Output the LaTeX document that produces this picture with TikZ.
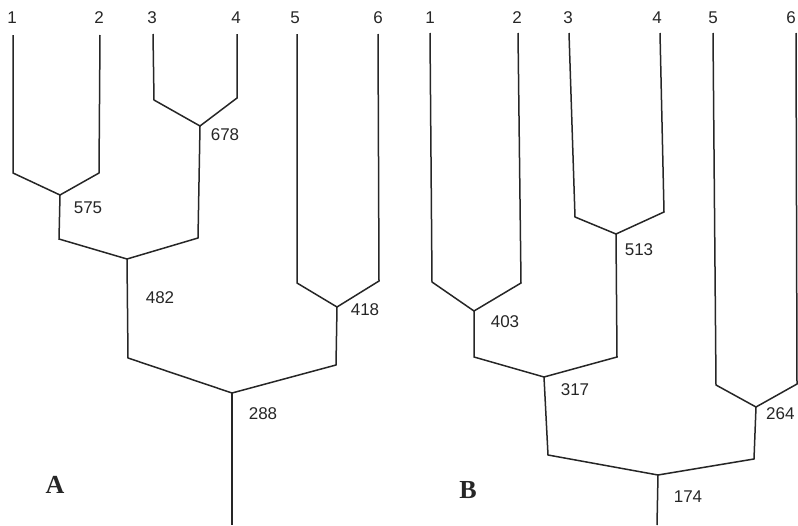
\documentclass[tikz,border=0pt]{standalone}
\usepackage{fontspec}
\setmainfont{Liberation Sans}
\newfontfamily\panelfont{Liberation Serif}
\begin{document}
\begin{tikzpicture}[x=1pt,y=-1pt,
  branch/.style={draw=black!85,line width=1.5pt,line join=miter},
  num/.style={inner sep=0pt,font=\fontsize{17}{20}\selectfont,text=black!85},
  panel/.style={inner sep=0pt,font=\panelfont\bfseries\fontsize{26}{28}\selectfont,text=black!85}]
\clip (0,0) rectangle (798,525);
\useasboundingbox (0,0) rectangle (798,525);
% ---------- Tree A ----------
\node[num] (la1) at (12,18) {1};
\node[num] (la2) at (99,18) {2};
\node[num] (la3) at (152,18) {3};
\node[num] (la4) at (236,18) {4};
\node[num] (la5) at (295,18) {5};
\node[num] (la6) at (378,18) {6};
\coordinate (a1t) at (13,35);  \coordinate (a1b) at (13,173);
\coordinate (a2t) at (100,35); \coordinate (a2b) at (99,173);
\coordinate (a575) at (60,195); \coordinate (a575b) at (59,239);
\coordinate (a3t) at (153,34); \coordinate (a3b) at (154,100);
\coordinate (a4t) at (237,34); \coordinate (a4b) at (237,98);
\coordinate (a678) at (200,126); \coordinate (a678b) at (198,238);
\coordinate (a482) at (127,259); \coordinate (a482b) at (128,358);
\coordinate (a5t) at (297,34); \coordinate (a5b) at (297,283);
\coordinate (a6t) at (378,34); \coordinate (a6b) at (379,281);
\coordinate (a418) at (337,307); \coordinate (a418b) at (336,365);
\coordinate (a288) at (232,393); \coordinate (aroot) at (232,525);
\draw[branch] (a1t) -- (a1b) -- (a575) -- (a2b) -- (a2t);
\draw[branch] (a3t) -- (a3b) -- (a678) -- (a4b) -- (a4t);
\draw[branch] (a575) -- (a575b) -- (a482) -- (a678b) -- (a678);
\draw[branch] (a5t) -- (a5b) -- (a418) -- (a6b) -- (a6t);
\draw[branch] (a482) -- (a482b) -- (a288) -- (a418b) -- (a418);
\draw[branch] (a288) -- (aroot);
\node[num] (n575) at (88,208) {575};
\node[num] (n678) at (225,135) {678};
\node[num] (n482) at (160,298) {482};
\node[num] (n418) at (365,310) {418};
\node[num] (n288) at (263,414) {288};
\node[panel] (pA) at (55,485) {A};
% ---------- Tree B ----------
\node[num] (lb1) at (430,18) {1};
\node[num] (lb2) at (517,18) {2};
\node[num] (lb3) at (568,18) {3};
\node[num] (lb4) at (657,18) {4};
\node[num] (lb5) at (713,18) {5};
\node[num] (lb6) at (791,18) {6};
\coordinate (b1t) at (430,33); \coordinate (b1b) at (432,282);
\coordinate (b2t) at (518,33); \coordinate (b2b) at (521,283);
\coordinate (b403) at (474,311); \coordinate (b403b) at (474,357);
\coordinate (b3t) at (569,33); \coordinate (b3b) at (575,217);
\coordinate (b4t) at (660,33); \coordinate (b4b) at (664,212);
\coordinate (b513) at (616,234); \coordinate (b513b) at (617,357);
\coordinate (b317) at (544,377); \coordinate (b317b) at (548,455);
\coordinate (b5t) at (713,33); \coordinate (b5b) at (716,385);
\coordinate (b6t) at (796,33); \coordinate (b6b) at (797,384);
\coordinate (b264) at (756,407); \coordinate (b264b) at (754,459);
\coordinate (b174) at (658,475); \coordinate (broot) at (657,525);
\draw[branch] (b1t) -- (b1b) -- (b403) -- (b2b) -- (b2t);
\draw[branch] (b3t) -- (b3b) -- (b513) -- (b4b) -- (b4t);
\draw[branch] (b403) -- (b403b) -- (b317) -- (b513b) -- (b513);
\draw[branch] (b5t) -- (b5b) -- (b264) -- (b6b) -- (b6t);
\draw[branch] (b317) -- (b317b) -- (b174) -- (b264b) -- (b264);
\draw[branch] (b174) -- (broot);
\node[num] (n513) at (639,250) {513};
\node[num] (n403) at (505,322) {403};
\node[num] (n317) at (575,390) {317};
\node[num,anchor=west] (n264) at (766,414) {264};
\node[num] (n174) at (688,497) {174};
\node[panel] (pB) at (468,490) {B};
\end{tikzpicture}
\end{document}
